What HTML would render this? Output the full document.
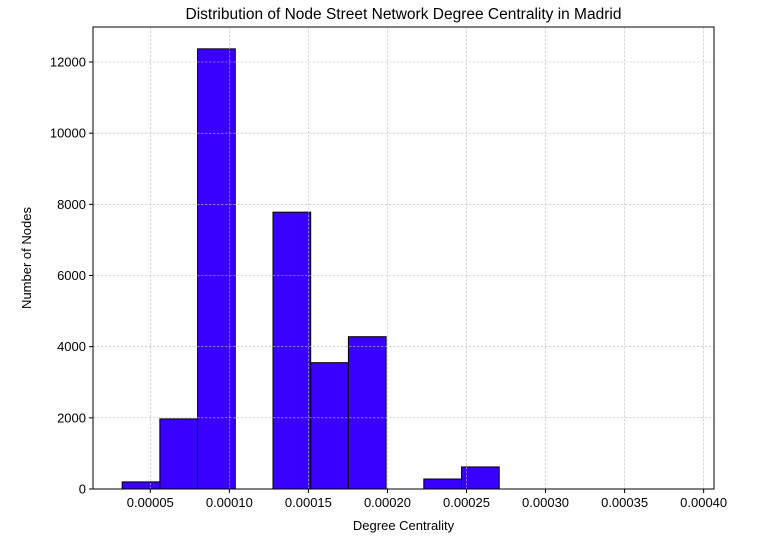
<!DOCTYPE html>
<html><head><meta charset="utf-8"><style>
body{margin:0;background:#fff;font-family:"Liberation Sans","DejaVu Sans",sans-serif;}
svg text{font-family:"Liberation Sans","DejaVu Sans",sans-serif;}
</style></head><body>
<svg id="chart" width="758" height="539" xmlns="http://www.w3.org/2000/svg"></svg>
<script>
const binStart = 0.0000322;
const binWidth = 0.00002385;
const counts = [200, 1970, 12370, 0, 7780, 3550, 4280, 0, 280, 620, 0, 0, 0, 0, 0];
const xTicks = [0.00005, 0.00010, 0.00015, 0.00020, 0.00025, 0.00030, 0.00035, 0.00040];
const xTickLabels = ["0.00005","0.00010","0.00015","0.00020","0.00025","0.00030","0.00035","0.00040"];
const yTicks = [0, 2000, 4000, 6000, 8000, 10000, 12000];

const L=93,R=714,T=27,B=489;
const xs = v => 150.3 + (v-0.00005)/0.00005*79.05;
const ys = v => 489 - v/12000*427;
const svg=document.getElementById('chart');
const NS="http://www.w3.org/2000/svg";
function mk(t,a,p){const e=document.createElementNS(NS,t);for(const k in a)e.setAttribute(k,a[k]);(p||svg).appendChild(e);return e;}

const bars=mk('g',{});


counts.forEach((c,i)=>{
  const x0=xs(binStart+i*binWidth), x1=xs(binStart+(i+1)*binWidth);
  const r=mk('rect',{x:x0,y:ys(c),width:x1-x0,height:ys(0)-ys(c),fill:'#3a00ff',stroke:'#000','stroke-width':1},bars);
  
  
});

const grid=mk('g',{});


xTicks.forEach(v=>{mk('line',{x1:xs(v),x2:xs(v),y1:T,y2:B,stroke:'#bbbbbb','stroke-width':0.6,'stroke-dasharray':'2.5,1.5'},grid);});
yTicks.forEach(v=>{mk('line',{x1:L,x2:R,y1:ys(v),y2:ys(v),stroke:'#bbbbbb','stroke-width':0.6,'stroke-dasharray':'2.5,1.5'},grid);});

const frame=mk('rect',{x:L,y:T,width:R-L,height:B-T,fill:'none',stroke:'#000','stroke-width':1});



const xa=mk('g',{});


xTicks.forEach((v,i)=>{
  mk('line',{x1:xs(v),x2:xs(v),y1:B,y2:B+4,stroke:'#000'},xa);
  const t=mk('text',{x:xs(v),y:B+18,'text-anchor':'middle','font-size':13},xa);t.textContent=xTickLabels[i];
});
const ya=mk('g',{});


yTicks.forEach(v=>{
  mk('line',{x1:L-4,x2:L,y1:ys(v),y2:ys(v),stroke:'#000'},ya);
  const t=mk('text',{x:L-7,y:ys(v)+4.5,'text-anchor':'end','font-size':13},ya);t.textContent=v;
});
const xt=mk('text',{x:403.5,y:530,'text-anchor':'middle','font-size':13});xt.textContent='Degree Centrality';


const yt=mk('text',{x:31,y:258,'text-anchor':'middle','font-size':13,transform:'rotate(-90 31 258)'});yt.textContent='Number of Nodes';


const tt=mk('text',{x:403.5,y:19,'text-anchor':'middle','font-size':15.5});tt.textContent='Distribution of Node Street Network Degree Centrality in Madrid';


</script>
</body></html>
